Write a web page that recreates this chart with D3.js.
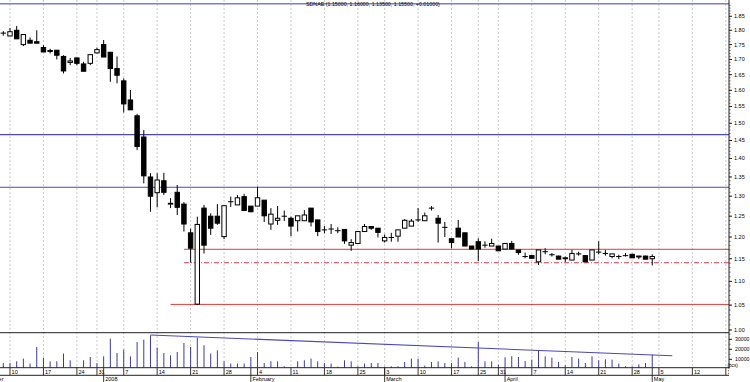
<!DOCTYPE html>
<html><head><meta charset="utf-8">
<script src="https://cdn.jsdelivr.net/npm/d3@7"></script>
<style>
body{margin:0;background:#fff}
svg{display:block}
text{font-family:"Liberation Sans",Arial,sans-serif;fill:#000}
</style>
</head><body>
<svg id="c" width="750" height="382"></svg>
<script>
// ---------- DATA ----------
const title = "SDNAE (1.15000, 1.16000, 1.13500, 1.15500, +0.01000)";
const dates = [
 "2007-12-07","2007-12-10","2007-12-11","2007-12-12","2007-12-13","2007-12-14","2007-12-17","2007-12-18","2007-12-19","2007-12-20","2007-12-21","2007-12-24","2007-12-27","2007-12-28","2007-12-31",
 "2008-01-02","2008-01-03","2008-01-04","2008-01-07","2008-01-08","2008-01-09","2008-01-10","2008-01-11","2008-01-14","2008-01-15","2008-01-16","2008-01-17","2008-01-18","2008-01-21","2008-01-22","2008-01-23","2008-01-24","2008-01-25","2008-01-28","2008-01-29","2008-01-30","2008-01-31",
 "2008-02-01","2008-02-04","2008-02-05","2008-02-06","2008-02-07","2008-02-08","2008-02-11","2008-02-12","2008-02-13","2008-02-14","2008-02-15","2008-02-18","2008-02-19","2008-02-20","2008-02-21","2008-02-22","2008-02-25","2008-02-26","2008-02-27","2008-02-28",
 "2008-03-03","2008-03-04","2008-03-05","2008-03-06","2008-03-07","2008-03-10","2008-03-11","2008-03-12","2008-03-13","2008-03-14","2008-03-17","2008-03-18","2008-03-19","2008-03-20","2008-03-25","2008-03-26","2008-03-27","2008-03-31",
 "2008-04-01","2008-04-02","2008-04-03","2008-04-04","2008-04-07","2008-04-08","2008-04-09","2008-04-10","2008-04-11","2008-04-14","2008-04-15","2008-04-16","2008-04-17","2008-04-18","2008-04-21","2008-04-22","2008-04-23","2008-04-24","2008-04-25","2008-04-28","2008-04-29","2008-04-30",
 "2008-05-02"
];
const futureDates = ["2008-05-05","2008-05-06","2008-05-07","2008-05-08","2008-05-09","2008-05-12","2008-05-13","2008-05-14","2008-05-15","2008-05-16","2008-05-19"];

const open  = [1.79,1.78,1.80,1.75,1.765,1.76,1.74,1.73,1.731,1.71,1.69,1.705,1.685,1.687,1.722,1.75,1.724,1.67,1.63,1.57,1.522,1.46,1.35,1.309,1.34,1.28,1.31,1.28,1.21,1.052,1.27,1.25,1.25,1.201,1.286,1.278,1.299,1.275,1.275,1.29,1.231,1.24,1.25,1.245,1.239,1.239,1.27,1.241,1.217,1.219,1.215,1.218,1.181,1.185,1.213,1.225,1.221,1.191,1.199,1.202,1.221,1.226,1.241,1.239,1.27,1.245,1.223,1.196,1.221,1.21,1.179,1.189,1.181,1.179,1.179,1.172,1.185,1.17,1.155,1.157,1.143,1.166,1.159,1.156,1.152,1.147,1.161,1.157,1.147,1.165,1.162,1.155,1.155,1.157,1.16,1.156,1.156,1.15];
const high  = [1.797,1.808,1.815,1.785,1.775,1.80,1.748,1.736,1.731,1.714,1.705,1.705,1.692,1.716,1.74,1.766,1.724,1.71,1.638,1.601,1.528,1.48,1.36,1.36,1.361,1.295,1.329,1.285,1.22,1.249,1.278,1.257,1.28,1.276,1.299,1.303,1.306,1.275,1.3245,1.29,1.27,1.275,1.264,1.249,1.251,1.265,1.27,1.241,1.226,1.231,1.223,1.218,1.195,1.213,1.231,1.225,1.221,1.206,1.21,1.217,1.243,1.243,1.27,1.259,1.275,1.253,1.236,1.196,1.241,1.21,1.179,1.197,1.19,1.196,1.179,1.185,1.191,1.17,1.164,1.159,1.17,1.174,1.163,1.157,1.155,1.17,1.166,1.158,1.17,1.19,1.17,1.161,1.159,1.163,1.161,1.157,1.157,1.16];
const low   = [1.781,1.78,1.77,1.745,1.755,1.755,1.725,1.72,1.70,1.654,1.681,1.681,1.661,1.681,1.72,1.708,1.627,1.622,1.532,1.54,1.423,1.333,1.261,1.272,1.303,1.27,1.253,1.213,1.141,1.05,1.162,1.205,1.229,1.195,1.273,1.278,1.264,1.26,1.275,1.236,1.217,1.229,1.238,1.202,1.213,1.239,1.225,1.202,1.209,1.207,1.209,1.184,1.168,1.185,1.213,1.217,1.199,1.187,1.189,1.189,1.221,1.226,1.236,1.239,1.264,1.187,1.20,1.174,1.20,1.179,1.172,1.145,1.175,1.179,1.168,1.172,1.172,1.159,1.151,1.151,1.136,1.16,1.155,1.149,1.143,1.147,1.157,1.143,1.147,1.16,1.157,1.151,1.149,1.155,1.152,1.149,1.149,1.135];
const close = [1.79,1.795,1.77,1.785,1.755,1.755,1.725,1.727,1.714,1.662,1.695,1.687,1.661,1.716,1.733,1.708,1.67,1.648,1.558,1.54,1.433,1.353,1.30,1.342,1.31,1.282,1.272,1.231,1.174,1.23,1.181,1.221,1.233,1.276,1.286,1.296,1.264,1.261,1.296,1.251,1.255,1.245,1.25,1.226,1.251,1.253,1.236,1.213,1.217,1.219,1.215,1.191,1.187,1.213,1.225,1.221,1.211,1.199,1.199,1.217,1.24,1.238,1.241,1.251,1.27,1.233,1.223,1.187,1.20,1.179,1.172,1.172,1.181,1.185,1.168,1.185,1.172,1.164,1.155,1.151,1.17,1.166,1.159,1.149,1.15,1.162,1.161,1.143,1.17,1.165,1.162,1.161,1.155,1.157,1.152,1.154,1.149,1.155];
const volume = [6300,6300,8000,10700,5700,22300,11300,8000,8000,15700,9000,2000,9000,12300,6300,13000,30700,16300,19700,13000,27300,29700,34000,21700,16300,14000,17300,26300,22300,31700,24000,15700,19000,8000,5700,5700,5700,
 12300,17300,6300,8000,8000,3000,2000,8000,9000,10700,8000,6300,5700,2700,9000,8000,3000,5700,6300,6300,2700,3000,3000,7300,10700,10700,3700,7300,8000,6300,6300,11700,7300,3000,27300,8000,8000,4700,
 12000,13000,12300,8300,9700,19000,13000,11700,7300,4000,12300,10700,6300,13000,9000,10000,9700,5700,3000,3000,5000,6300,14700];

const priceTicks = [1.00,1.05,1.10,1.15,1.20,1.25,1.30,1.35,1.40,1.45,1.50,1.55,1.60,1.65,1.70,1.75,1.80,1.85];
const volTicks = [10000,20000,30000];
const weekTicks = ["2007-12-10","2007-12-17","2007-12-24","2007-12-31","2008-01-07","2008-01-14","2008-01-21","2008-01-28","2008-02-04","2008-02-11","2008-02-18","2008-02-25","2008-03-03","2008-03-10","2008-03-17","2008-03-25","2008-03-31","2008-04-07","2008-04-14","2008-04-21","2008-04-28","2008-05-05","2008-05-12","2008-05-19"];
const monthTicks = ["2008-01-02","2008-02-01","2008-03-03","2008-04-01","2008-05-02"];
const monthLabels = ["2008","February","March","April","May"];
const prevMonthLabel = "December";

const topLevel = 1.896;
const blueLevels = [1.467, 1.323];
const redLevels = [1.1715, 1.0515];
const redLevelStart = ["2008-01-18", "2008-01-16"];
const redDashLevel = 1.141;
const redDashStart = "2008-01-18";
const volTrend = [{date:"2008-01-11", v:34300},{date:"2008-05-07", v:13600}];

// ---------- LAYOUT ----------
const W = 750, H = 382;
const plotR = 729, mainBot = 332.7, axisY = 367.7, dayRowBot = 375.3;
const allDates = dates.concat(futureDates);

const svg = d3.select("#c");
const x = d3.scalePoint().domain(allDates).range([3.3, 3.3 + 6.69*(allDates.length-1)]);
const y = d3.scaleLog().domain([1.0, 1.85]).range([330, 16.3]);
const yv = d3.scaleLinear().domain([0, 30000]).range([369.3, 339.3]);

const defs = svg.append("defs");
defs.append("clipPath").attr("id","mainClip").append("rect").attr("x",0).attr("y",0).attr("width",plotR).attr("height",mainBot);
defs.append("clipPath").attr("id","volClip").append("rect").attr("x",0).attr("y",mainBot).attr("width",plotR).attr("height",axisY-mainBot);
defs.append("clipPath").attr("id","axClip").append("rect").attr("x",0).attr("y",axisY).attr("width",plotR).attr("height",H-axisY);

// vertical dashed grid
svg.append("g").selectAll("line").data(weekTicks).join("line")
  .attr("x1",d=>x(d)).attr("x2",d=>x(d)).attr("y1",0).attr("y2",axisY)
  .attr("stroke","#bdbdbd").attr("stroke-width",0.8).attr("stroke-dasharray","2,2");

// horizontal levels
const gMain = svg.append("g").attr("clip-path","url(#mainClip)");
gMain.append("line").attr("x1",0).attr("x2",plotR).attr("y1",y(topLevel)).attr("y2",y(topLevel))
  .attr("stroke","#7c7ad8").attr("stroke-width",1.6);
gMain.selectAll(".bl").data(blueLevels).join("line")
  .attr("x1",0).attr("x2",plotR).attr("y1",d=>y(d)).attr("y2",d=>y(d))
  .attr("stroke","#4a48b8").attr("stroke-width",1.1);
gMain.selectAll(".rl").data(redLevels).join("line")
  .attr("x1",(d,i)=>x(redLevelStart[i])).attr("x2",plotR).attr("y1",d=>y(d)).attr("y2",d=>y(d))
  .attr("stroke","#e03a3a").attr("stroke-width",1);
gMain.append("line").attr("x1",x(redDashStart)).attr("x2",plotR).attr("y1",y(redDashLevel)).attr("y2",y(redDashLevel))
  .attr("stroke","#d83a4a").attr("stroke-width",1).attr("stroke-dasharray","5,2,1,2");

// candles
const candles = dates.map((d,i)=>({d, o:open[i], h:high[i], l:low[i], c:close[i]}));
const bw = 4.4;
const gC = gMain.append("g");
gC.selectAll(".wick").data(candles).join("line")
  .attr("x1",d=>x(d.d)).attr("x2",d=>x(d.d)).attr("y1",d=>y(d.h)).attr("y2",d=>y(d.l))
  .attr("stroke","#000").attr("stroke-width",1);
gC.selectAll(".body").data(candles).join("rect")
  .attr("x",d=>x(d.d)-bw/2).attr("width",bw)
  .attr("y",d=>y(Math.max(d.o,d.c)))
  .attr("height",d=>Math.max(0.01, Math.abs(y(d.o)-y(d.c))))
  .attr("fill",d=>d.c>=d.o?"#fff":"#000")
  .attr("stroke","#000").attr("stroke-width",1);

// title
svg.append("text").attr("x",306).attr("y",6).attr("font-size",5.3).text(title);

// volume panel
const gV = svg.append("g").attr("clip-path","url(#volClip)");
gV.selectAll("line").data(dates).join("line")
  .attr("x1",d=>x(d)).attr("x2",d=>x(d)).attr("y1",yv(0)).attr("y2",(d,i)=>yv(volume[i]))
  .attr("stroke","#3a3aa8").attr("stroke-width",1);
gV.append("line").attr("x1",x(volTrend[0].date)).attr("x2",x(volTrend[1].date))
  .attr("y1",yv(volTrend[0].v)).attr("y2",yv(volTrend[1].v))
  .attr("stroke","#4a48b8").attr("stroke-width",1.1);

// frame lines
svg.append("line").attr("x1",0).attr("x2",plotR).attr("y1",mainBot).attr("y2",mainBot).attr("stroke","#222").attr("stroke-width",1);
svg.append("line").attr("x1",0).attr("x2",plotR).attr("y1",axisY).attr("y2",axisY).attr("stroke","#222").attr("stroke-width",1);
svg.append("line").attr("x1",0).attr("x2",plotR).attr("y1",dayRowBot).attr("y2",dayRowBot).attr("stroke","#222").attr("stroke-width",1);
svg.append("line").attr("x1",plotR).attr("x2",plotR).attr("y1",0).attr("y2",axisY+1).attr("stroke","#222").attr("stroke-width",1);

// right price axis
const gAx = svg.append("g").attr("transform",`translate(${plotR},0)`);
const minor = d3.range(100, 190, 1).map(v=>v/100);
gAx.selectAll(".mn").data(minor).join("line")
  .attr("x1",0).attr("x2",1.6).attr("y1",d=>y(d)).attr("y2",d=>y(d)).attr("stroke","#333").attr("stroke-width",0.7);
gAx.selectAll(".mj").data(priceTicks).join("line")
  .attr("x1",0).attr("x2",3).attr("y1",d=>y(d)).attr("y2",d=>y(d)).attr("stroke","#222").attr("stroke-width",1);
gAx.selectAll(".pl").data(priceTicks).join("text")
  .attr("x",5).attr("y",d=>y(d)+1.9).attr("font-size",5.5).text(d=>d3.format(".2f")(d));

// volume axis
const vMinor = d3.range(5000, 36000, 5000);
gAx.selectAll(".vmn").data(vMinor).join("line")
  .attr("x1",0).attr("x2",1.6).attr("y1",d=>yv(d)).attr("y2",d=>yv(d)).attr("stroke","#333").attr("stroke-width",0.7);
gAx.selectAll(".vmj").data(volTicks).join("line")
  .attr("x1",0).attr("x2",3).attr("y1",d=>yv(d)).attr("y2",d=>yv(d)).attr("stroke","#222").attr("stroke-width",1);
gAx.selectAll(".vl").data(volTicks).join("text")
  .attr("x",6).attr("y",d=>yv(d)+1.9).attr("font-size",5.2).text(d=>d);
gAx.append("text").attr("x",-1.5).attr("y",axisY-0.6).attr("font-size",4.6).text("(pcs)");

// bottom date axis
const gB = svg.append("g").attr("clip-path","url(#axClip)");
gB.selectAll(".wt").data(weekTicks).join("line")
  .attr("x1",d=>x(d)).attr("x2",d=>x(d)).attr("y1",axisY).attr("y2",dayRowBot).attr("stroke","#222").attr("stroke-width",0.9);
gB.selectAll(".wl").data(weekTicks).join("text")
  .attr("x",d=>x(d)+1.6).attr("y",axisY+6).attr("font-size",5.5).text(d=>+d.slice(8));
gB.selectAll(".mt").data(monthTicks).join("line")
  .attr("x1",d=>x(d)).attr("x2",d=>x(d)).attr("y1",axisY).attr("y2",H).attr("stroke","#222").attr("stroke-width",0.9);
gB.selectAll(".ml").data(monthTicks).join("text")
  .attr("x",d=>x(d)+1.6).attr("y",H-1).attr("font-size",5.5).text((d,i)=>monthLabels[i]);
gB.append("text").attr("x",x(dates[0]) + 0.2).attr("y",H-1).attr("font-size",5.5).attr("text-anchor","end").text(prevMonthLabel);
</script>
</body></html>
